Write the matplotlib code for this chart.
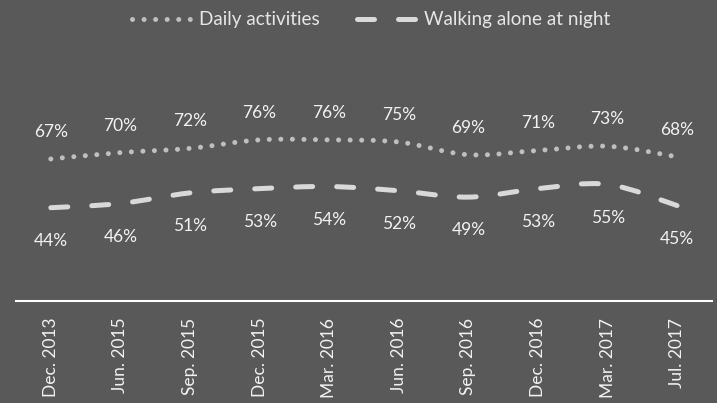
import matplotlib
matplotlib.use("Agg")
import matplotlib.pyplot as plt
from matplotlib.path import Path
from matplotlib.patches import PathPatch
from matplotlib.lines import Line2D

categories = ["Dec. 2013", "Jun. 2015", "Sep. 2015", "Dec. 2015", "Mar. 2016",
              "Jun. 2016", "Sep. 2016", "Dec. 2016", "Mar. 2017", "Jul. 2017"]
daily = [67, 70, 72, 76, 76, 75, 69, 71, 73, 68]
walking = [44, 46, 51, 53, 54, 52, 49, 53, 55, 45]

BG = "#595959"
FONT = "Lato"

fig = plt.figure(figsize=(7.17, 4.03), dpi=100, facecolor=BG)
ax = fig.add_axes([16/717, 1 - 301/403, 696/717, 212/403])
ax.set_facecolor(BG)
ax.set_xlim(-0.5, len(categories) - 0.5)
ax.set_ylim(0, 100)


def smooth_path(xs, ys):
    pts = list(zip(xs, ys))
    n = len(pts)
    verts = [pts[0]]
    codes = [Path.MOVETO]
    for i in range(n - 1):
        p0 = pts[i - 1] if i > 0 else pts[i]
        p1 = pts[i]
        p2 = pts[i + 1]
        p3 = pts[i + 2] if i + 2 < n else pts[i + 1]
        c1 = (p1[0] + (p2[0] - p0[0]) / 6, p1[1] + (p2[1] - p0[1]) / 6)
        c2 = (p2[0] - (p3[0] - p1[0]) / 6, p2[1] - (p3[1] - p1[1]) / 6)
        verts += [c1, c2, p2]
        codes += [Path.CURVE4] * 3
    return Path(verts, codes)


x = list(range(len(categories)))
daily_col = "#BFBFBF"
walk_col = "#D9D9D9"
lw = 3.6
dot_style = (0, (0.01, 2.3))
dash_style = (0, (3.4, 4.8))

p1 = PathPatch(smooth_path(x, daily), facecolor="none", edgecolor=daily_col,
               lw=lw, linestyle=dot_style, capstyle="round")
ax.add_patch(p1)
p2 = PathPatch(smooth_path(x, walking), facecolor="none", edgecolor=walk_col,
               lw=lw, linestyle=dash_style, capstyle="round")
ax.add_patch(p2)

for xi, v in zip(x, daily):
    ax.annotate(f"{v}%", (xi, v), xytext=(0, 19.5), textcoords="offset points",
                ha="center", va="center", color="#F2F2F2", fontsize=12.5,
                family=FONT, annotation_clip=False)
for xi, v in zip(x, walking):
    ax.annotate(f"{v}%", (xi, v), xytext=(0, -24), textcoords="offset points",
                ha="center", va="center", color="#F2F2F2", fontsize=12.5,
                family=FONT, annotation_clip=False)

for s in ["top", "left", "right"]:
    ax.spines[s].set_visible(False)
ax.spines["bottom"].set_color("white")
ax.spines["bottom"].set_linewidth(1.5)
ax.set_yticks([])
ax.set_xticks(x)
ax.set_xticklabels(categories, rotation=90, color="#F2F2F2", fontsize=12.5,
                   family=FONT)
ax.tick_params(axis="x", length=0, pad=12)

h1 = Line2D([], [], color=daily_col, lw=lw, linestyle=dot_style,
            dash_capstyle="round", solid_capstyle="round")
h2 = Line2D([], [], color=walk_col, lw=lw, linestyle=dash_style,
            dash_capstyle="round", solid_capstyle="round")
leg = fig.legend([h1, h2], ["Daily activities", "Walking alone at night"],
                 loc="center", bbox_to_anchor=(371/717, 1 - 20/403), ncol=2,
                 frameon=False, handlelength=3.3, handletextpad=0.27,
                 columnspacing=1.95, prop={"family": FONT, "size": 13.6})
for t in leg.get_texts():
    t.set_color("#E6E6E6")

fig.savefig("out.png", dpi=100, facecolor=BG)
